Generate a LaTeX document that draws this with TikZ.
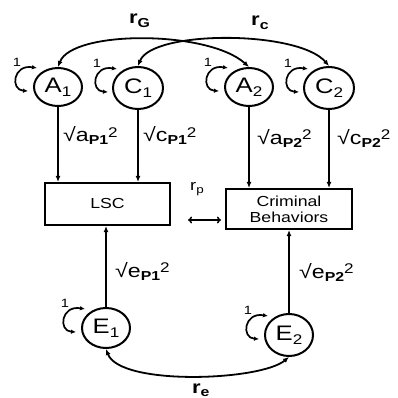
\documentclass[tikz,border=0pt]{standalone}
\usepackage{fontspec}
\setmainfont[FakeStretch=1.22]{Liberation Sans}
\usetikzlibrary{shapes.geometric,arrows.meta,calc}
\newcommand\latn[2]{#1\raisebox{-4pt}{\fontsize{14}{14}\selectfont #2}}
\newcommand\sqlab[2]{√#1\raisebox{-3pt}{\fontsize{13}{13}\selectfont\bfseries #2}\raisebox{4.5pt}{\fontsize{14}{14}\selectfont 2}}
\newcommand\rsub[2]{r\raisebox{-3.5pt}{\fontsize{#1}{#1}\selectfont #2}}
\begin{document}
\begin{tikzpicture}[x=1pt,y=-1pt,
  lat/.style={ellipse,draw,line width=2pt,minimum width=48pt,minimum height=38pt,inner sep=0pt,font=\fontsize{21}{21}\selectfont},
  latc/.style={lat,minimum width=50pt,minimum height=42pt},
  obs/.style={rectangle,draw,line width=2.1pt,inner sep=0pt,font=\fontsize{14.5}{16}\selectfont,align=center},
  regp/.style={line width=1.8pt,-{Latex[length=6pt,width=5pt]}},
  covp/.style={line width=1.8pt,{Latex[length=6pt,width=5pt]}-{Latex[length=6pt,width=5pt]}},
  corp/.style={line width=1.5pt,{To[length=4pt,width=7pt]}-{To[length=4pt,width=7pt]}},
  vloop/.style={line width=1.7pt,{Latex[length=5pt,width=4.5pt]}-{Latex[length=5pt,width=4.5pt]}},
  one/.style={font=\fontsize{12}{12}\selectfont,inner sep=0pt},
  lbl/.style={font=\fontsize{19}{19}\selectfont,inner sep=0pt,anchor=base west},
  rlab/.style={font=\fontsize{18}{18}\selectfont\bfseries,inner sep=0pt,anchor=base west}
]
\useasboundingbox (0,0) rectangle (397,398);
% latent variables
\node[lat]  (A1) at (58,87)  {\latn{A}{1}};
\node[latc] (C1) at (138,88) {\latn{C}{1}};
\node[lat]  (A2) at (249,87) {\latn{A}{2}};
\node[latc] (C2) at (329,88) {\latn{C}{2}};
\node[lat,minimum height=40pt] (E1) at (106,328) {\latn{E}{1}};
\node[lat,minimum height=42pt] (E2) at (289,335) {\latn{E}{2}};
% observed
\node[obs,minimum width=125pt,minimum height=42pt] (LSC) at (107.5,204) {LSC};
\node[obs,minimum width=126pt,minimum height=40pt] (CB) at (289,209) {Criminal\\Behaviors};
% paths
\draw[regp] (A1) -- (A1 |- LSC.north);
\draw[regp] (C1) -- (C1 |- LSC.north);
\draw[regp] (A2) -- (A2 |- CB.north);
\draw[regp] (C2) -- (C2 |- CB.north);
\draw[regp] (E1) -- (E1 |- LSC.south);
\draw[regp] (E2) -- (E2 |- CB.south);
% path labels
\node[lbl] (la1) at (63,142)  {\sqlab{a}{P1}};
\node[lbl] (lc1) at (143,142) {\sqlab{c}{P1}};
\node[lbl] (la2) at (257,144) {\sqlab{a}{P2}};
\node[lbl] (lc2) at (337,144) {\sqlab{c}{P2}};
\node[lbl] (le1) at (115,277) {\sqlab{e}{P1}};
\node[lbl] (le2) at (299,278) {\sqlab{e}{P2}};
% covariances
\draw[covp] (A1.north) .. controls (72,30) and (208,30) .. (A2.north);
\draw[covp] (C1.north) .. controls (152,30) and (298,30) .. (C2.north);
\draw[covp] (E1.south) .. controls (120,386) and (260,381) .. (E2.south);
\node[rlab] (rG) at (129,24) {\rsub{13}{G}};
\node[rlab] (rC) at (251,26) {\rsub{13}{c}};
\node[rlab] (rE) at (192,393) {\rsub{13}{e}};
% phenotypic correlation
\coordinate (pl) at (188,220);
\coordinate (pr) at (221,220);
\draw[corp] (pl) -- (pr);
\node[font=\fontsize{15}{15}\selectfont,inner sep=0pt,anchor=base west] (rP) at (190,190) {r\raisebox{-3.5pt}{\fontsize{11}{11}\selectfont p}};
% variance loops
\foreach \n in {A1,C1,A2,C2,E1,E2}{
  \draw[vloop] ($(\n)+(-21,-19)$) .. controls ($(\n)+(-45,-23)$) and ($(\n)+(-48,3)$) .. ($(\n)+(-30,4)$);
  \node[one] (one\n) at ($(\n)+(-41,-25)$) {1};
}
\end{tikzpicture}
\end{document}
